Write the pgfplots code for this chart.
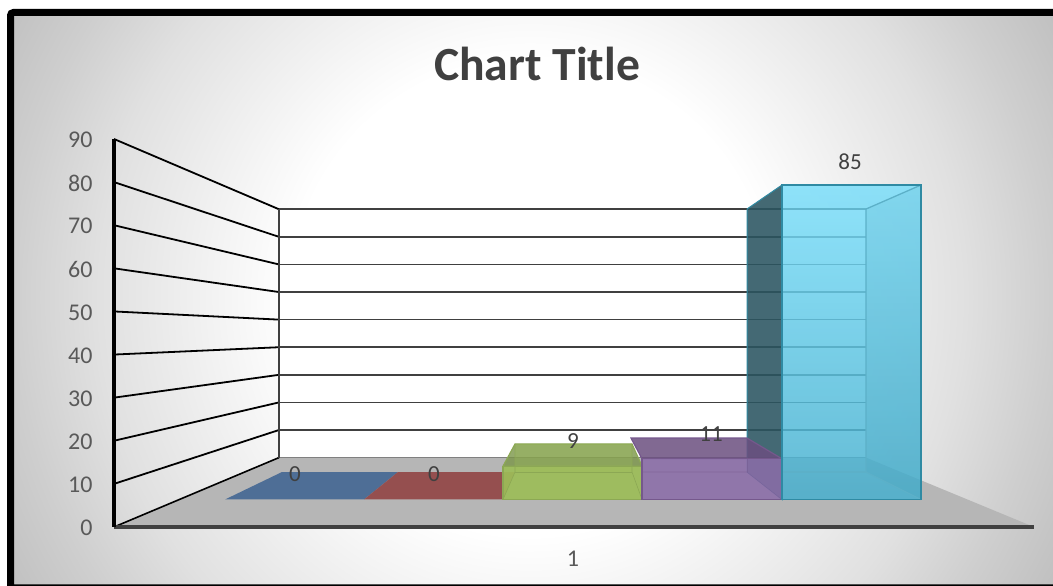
\documentclass[border=0pt]{standalone}
\usepackage{fontspec}
\setmainfont{Carlito}
\usepackage{pgfplots}
\pgfplotsset{compat=1.18}
\definecolor{ticktext}{HTML}{595959}
\definecolor{titletext}{HTML}{404040}
\definecolor{floorgrey}{HTML}{B6B6B6}
\definecolor{HTMLblue}{HTML}{4E6E96}
\definecolor{HTMLred}{HTML}{954F4F}
\definecolor{HTMLgreen}{HTML}{9DBD58}
\definecolor{HTMLgreentop}{HTML}{7A9548}
\definecolor{HTMLgreenedge}{HTML}{8CA854}
\definecolor{HTMLpurple}{HTML}{8B6EA9}
\definecolor{HTMLpurpletop}{HTML}{6B4F80}
\definecolor{HTMLpurpleedge}{HTML}{75588C}
\definecolor{HTMLcyantop}{HTML}{7ADEFA}
\definecolor{HTMLcyanbot}{HTML}{46AFCE}
\definecolor{HTMLcyanside}{HTML}{2B5561}
\definecolor{HTMLcyanedge}{HTML}{2F8AA3}
\definecolor{HTMLcyanline}{HTML}{5CB0C8}
% circle of radius 700 = 25bp of the shading
\pgfdeclareradialshading{bgshade}{\pgfpoint{0bp}{0bp}}{
  color(0bp)=(white); color(8.5bp)=(white); color(12bp)=(white!94!black);
  color(15.5bp)=(white!88!black); color(18.5bp)=(white!81!black);
  color(21.5bp)=(white!75!black); color(25bp)=(white!70!black)}
% pixel x shared by both axes
\pgfplotsset{px axis/.style={
  scale only axis, width=920pt, xmin=114, xmax=1034, ymin=0, ymax=90, clip=false}}
\begin{document}
\begin{tikzpicture}[x=1pt,y=1pt]
\path[use as bounding box] (0,0) rectangle (1053,586);
\begin{scope}
  \clip (0,0) rectangle (1053,586);
  \fill[white] (0,0) rectangle (1053,586);
  \begin{scope}
    \clip[rounded corners=3pt] (8,-10) rectangle (1070,576);
    \shade[shading=bgshade] (530,289) circle[radius=700];
  \end{scope}
  \draw[black,line width=7pt,rounded corners=3pt] (10.5,-2) rectangle (1070,573.5);
\end{scope}

% floor, walls, value axis
\begin{axis}[px axis, at={(114pt,59pt)}, anchor=south west, height=388pt,
  axis on top,
  axis x line*=bottom, axis y line*=left,
  x axis line style={-,draw=titletext,line width=3.5pt},
  y axis line style={-,draw=black,line width=3.5pt},
  major tick length=0pt,
  xtick={573}, xticklabels={1},
  ytick={0,10,...,90},
  /pgf/number format/assume math mode=true,
  tick label style={font=\fontsize{24}{28}\selectfont,text=ticktext},
  x tick label style={yshift=-21pt},
  y tick label style={xshift=-18pt,yshift=-1pt},
  title={Chart Title},
  title style={at={(0.4598,1.178)},anchor=center,
    font=\fontsize{47.6}{54}\selectfont\bfseries,text=titletext},
  ]
  \addplot[fill=white,draw=none] coordinates {(279,16.1)(866,16.1)(866,73.7)(279,73.7)} --cycle;
  \addplot[fill=floorgrey,draw=none] coordinates {(114,0)(279,16.1)(866,16.1)(1034,0)} --cycle;
  \addplot[black,line width=1.6pt] coordinates {(114,0)(279,16.1)};
  \addplot[gray,line width=1.4pt] coordinates {(279,16.1)(866,16.1)};
  \addplot[black,line width=1.8pt] coordinates {(114,10)(279,22.5)};
  \addplot[black,line width=1.8pt] coordinates {(114,20)(279,28.9)};
  \addplot[black,line width=1.8pt] coordinates {(114,30)(279,35.3)};
  \addplot[black,line width=1.8pt] coordinates {(114,40)(279,41.7)};
  \addplot[black,line width=1.8pt] coordinates {(114,50)(279,48.1)};
  \addplot[black,line width=1.8pt] coordinates {(114,60)(279,54.5)};
  \addplot[black,line width=1.8pt] coordinates {(114,70)(279,60.9)};
  \addplot[black,line width=1.8pt] coordinates {(114,80)(279,67.3)};
  \addplot[black,line width=1.8pt] coordinates {(114,90)(279,73.7)};
  \addplot[titletext,line width=1.6pt] coordinates {(279,22.5)(866,22.5)};
  \addplot[titletext,line width=1.6pt] coordinates {(279,28.9)(866,28.9)};
  \addplot[titletext,line width=1.6pt] coordinates {(279,35.3)(866,35.3)};
  \addplot[titletext,line width=1.6pt] coordinates {(279,41.7)(866,41.7)};
  \addplot[titletext,line width=1.6pt] coordinates {(279,48.1)(866,48.1)};
  \addplot[titletext,line width=1.6pt] coordinates {(279,54.5)(866,54.5)};
  \addplot[titletext,line width=1.6pt] coordinates {(279,60.9)(866,60.9)};
  \addplot[titletext,line width=1.6pt] coordinates {(279,67.3)(866,67.3)};
  \addplot[titletext,line width=1.6pt] coordinates {(279,73.7)(866,73.7)};
  \addplot[titletext,line width=1.6pt] coordinates {(279,16.1)(279,73.7)};
\end{axis}

% bars: y is the value on the bars' front plane, back plane offset 7.43
\begin{axis}[px axis, at={(114pt,86.5pt)}, anchor=south west, height=333pt, hide axis]
  % zero-height bars
  \addplot[fill=HTMLblue,draw=none] coordinates {(225,0)(364,0)(398,7.43)(282,7.43)} --cycle;
  \addplot[fill=HTMLred,draw=none] coordinates {(364,0)(503,0)(515,7.43)(398,7.43)} --cycle;
  % value 85, back and left side
  \addplot[fill=HTMLcyanside,fill opacity=.88,draw=HTMLcyanedge,line width=1pt]
    coordinates {(782,0)(747,7.43)(747,78.5)(782,85)} --cycle;
  % value 9
  \addplot[fill=HTMLgreentop,fill opacity=.8,draw=HTMLgreenedge,line width=1.2pt]
    coordinates {(503,9)(642,9)(632,15)(515,15)} --cycle;
  \addplot[fill=HTMLgreen,fill opacity=.3,draw=none] coordinates {(515,7.43)(632,7.43)(632,15)(515,15)} --cycle;
  \addplot[fill=HTMLgreen,fill opacity=.92,draw=HTMLgreenedge,line width=1.2pt]
    coordinates {(503,0)(642,0)(642,9)(503,9)} --cycle;
  \addplot[HTMLgreenedge,line width=.6pt] coordinates {(503,0)(515,7.43)(515,15)};
  \addplot[HTMLgreenedge,line width=.6pt] coordinates {(642,0)(632,7.43)(632,15)};
  \addplot[HTMLgreenedge,line width=.6pt] coordinates {(515,7.43)(632,7.43)};
  % value 11
  \addplot[fill=HTMLpurpletop,fill opacity=.85,draw=HTMLpurpleedge,line width=1.2pt]
    coordinates {(642,11)(782,11)(747,16.6)(631,16.6)} --cycle;
  \addplot[fill=HTMLpurple,fill opacity=.88,draw=HTMLpurpleedge,line width=1.2pt]
    coordinates {(642,0)(782,0)(782,11)(642,11)} --cycle;
  \addplot[HTMLpurpleedge,opacity=.5,line width=.6pt] coordinates {(642,7.43)(747,7.43)(782,0)};
  \addplot[HTMLpurpleedge,opacity=.5,line width=.6pt] coordinates {(747,7.43)(747,11)};
  % value 85, front
  \addplot[top color=HTMLcyantop,bottom color=HTMLcyanbot,fill opacity=.84,draw=none]
    coordinates {(782,0)(921,0)(921,85)(782,85)} --cycle;
  \addplot[fill=HTMLcyanedge,fill opacity=.1,draw=none]
    coordinates {(866,7.43)(921,0)(921,85)(866,78.5)} --cycle;
  \addplot[HTMLcyanline,line width=1.3pt] coordinates {(782,78.5)(866,78.5)(921,85)};
  \addplot[HTMLcyanline,line width=1.3pt] coordinates {(866,78.5)(866,7.43)(921,0)};
  \addplot[HTMLcyanline,line width=1.3pt] coordinates {(782,7.43)(866,7.43)};
  \addplot[HTMLcyanedge,line width=1.8pt] coordinates {(782,0)(921,0)(921,85)(782,85)} --cycle;
  % data labels
  \node[font=\fontsize{23}{27}\selectfont,text=titletext] at (axis cs:295,6.9) {0};
  \node[font=\fontsize{23}{27}\selectfont,text=titletext] at (axis cs:434,6.9) {0};
  \node[font=\fontsize{23}{27}\selectfont,text=titletext] at (axis cs:573,15.8) {9};
  \node[font=\fontsize{23}{27}\selectfont,text=titletext] at (axis cs:711,17.7) {11};
  \node[font=\fontsize{23}{27}\selectfont,text=titletext] at (axis cs:850,91.4) {85};
\end{axis}
\end{tikzpicture}
\end{document}
